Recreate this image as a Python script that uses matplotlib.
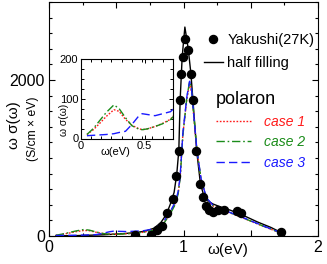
import matplotlib
matplotlib.use("Agg")
import matplotlib.pyplot as plt
from matplotlib.ticker import FixedLocator, MultipleLocator, FuncFormatter
from matplotlib.lines import Line2D

plt.rcParams['font.family'] = ['Liberation Sans', 'DejaVu Sans']

# ---- data ----
yak_w = [0.64, 0.756, 0.80, 0.84, 0.88, 0.92, 0.945, 0.966, 0.974, 0.98, 0.995, 1.013,
         1.036, 1.056, 1.068, 1.095, 1.125, 1.145, 1.17, 1.19, 1.22, 1.26, 1.30, 1.40, 1.43, 1.725]
yak_s = [15, 15, 80, 130, 300, 480, 770, 1090, 1740, 2080, 2300, 2530,
         2390, 2080, 1740, 1090, 670, 500, 380, 330, 310, 330, 340, 320, 300, 55]

hf_w = [0.05, 0.2, 0.4, 0.55, 0.65, 0.72, 0.78, 0.83, 0.87, 0.90, 0.93, 0.95, 0.965, 0.975,
        0.99, 1.01, 1.035, 1.055, 1.07, 1.098, 1.125, 1.15, 1.18, 1.22, 1.28, 1.35, 1.45,
        1.55, 1.65, 1.72]
hf_s = [2, 5, 15, 30, 45, 65, 100, 170, 270, 400, 560, 800, 1100, 1750,
        2300, 2680, 2400, 2080, 1740, 1090, 680, 520, 450, 410, 370, 330, 260,
        180, 110, 50]

pol_w = [0.05, 0.10, 0.15, 0.20, 0.26, 0.30, 0.35, 0.40, 0.45, 0.48, 0.52, 0.58, 0.64, 0.70,
         0.76, 0.80, 0.85, 0.90, 0.94, 0.96, 0.975, 0.995, 1.025, 1.045, 1.06, 1.08, 1.10,
         1.13, 1.17, 1.22, 1.30, 1.40, 1.50, 1.60, 1.72]
case1 = [10, 22, 38, 55, 72, 68, 48, 33, 25, 22, 24, 30, 38, 48, 70, 95, 160, 290, 420, 550,
         750, 1300, 1760, 1950, 1850, 1460, 1090, 730, 480, 385, 325, 262, 190, 120, 40]
case2 = [10, 25, 45, 65, 84, 75, 52, 32, 24, 22, 24, 30, 37, 47, 68, 92, 155, 280, 410, 540,
         740, 1290, 1780, 1980, 1870, 1480, 1100, 735, 485, 388, 328, 264, 192, 122, 42]
case3 = [7, 8, 9, 10, 12, 15, 18, 35, 55, 62, 60, 57, 62, 67, 85, 110, 180, 310, 440, 570,
         770, 1320, 1790, 1985, 1875, 1475, 1095, 740, 490, 392, 332, 267, 195, 125, 45]

case_labels = ["case 1", "case 2", "case 3"]
case_colors = ["#ff1a1a", "#1a8c1a", "#1a1aff"]
case_dashes = [(1.2, 1.2), (6, 2, 1.2, 2), (6, 3)]

# ---- figure ----
fig = plt.figure(figsize=(3.27, 2.64), dpi=100)
ax = fig.add_axes([0.150, 0.106, 0.8225, 0.886])

ax.plot(hf_w, hf_s, color='black', lw=1.0, zorder=3)
for vals, c, d in zip([case1, case2, case3], case_colors, case_dashes):
    ax.plot(pol_w, vals, color=c, lw=1.0, dashes=d, zorder=4)
ax.plot(yak_w, yak_s, 'o', color='black', ms=5.8, zorder=5)

ax.set_xlim(0, 2)
ax.set_ylim(0, 3000)
ax.xaxis.set_major_locator(FixedLocator([0, 0.5, 1, 1.5, 2]))
ax.xaxis.set_major_formatter(FuncFormatter(lambda v, p: f"{v:g}" if abs(v - round(v)) < 1e-6 else ""))
ax.xaxis.set_minor_locator(MultipleLocator(0.25))
ax.yaxis.set_major_locator(FixedLocator([0, 2000]))
ax.yaxis.set_minor_locator(MultipleLocator(200))
ax.tick_params(which='both', direction='in', top=True, right=True, labelsize=11.5, width=0.8)
ax.tick_params(which='major', length=4.5, pad=3)
ax.tick_params(which='minor', length=2.5)
for s in ax.spines.values():
    s.set_linewidth(0.8)

fig.text(228 / 327, 1 - 250 / 264, "ω(eV)", ha='center', va='center', fontsize=11)
fig.text(14 / 327, 1 - 125 / 264, "ω σ(ω)", rotation=90, ha='center', va='center', fontsize=11)
fig.text(33 / 327, 1 - 129 / 264, "(S/cm × eV)", rotation=90, ha='center', va='center', fontsize=8.7)

# legends
h1 = [Line2D([], [], marker='o', ls='none', color='black', ms=5.8),
      Line2D([], [], color='black', lw=1.0)]
leg1 = ax.legend(h1, ["Yakushi(27K)", "half filling"], loc='upper left',
                 bbox_to_anchor=(204 / 327, 1 - 33 / 264), bbox_transform=fig.transFigure,
                 frameon=False, fontsize=10.5, handlelength=1.3, handletextpad=0.3,
                 borderpad=0, borderaxespad=0, labelspacing=0.6)
ax.add_artist(leg1)

h2 = [Line2D([], [], color=c, lw=1.0, dashes=d) for c, d in zip(case_colors, case_dashes)]
leg2 = ax.legend(h2, case_labels, loc='upper left',
                 bbox_to_anchor=(216 / 327, 1 - 91 / 264), bbox_transform=fig.transFigure,
                 frameon=False, prop={'size': 10, 'style': 'italic'}, title="polaron",
                 title_fontsize=13, handlelength=2.5, handletextpad=0.95,
                 borderpad=0, borderaxespad=0, labelspacing=0.48)
leg2._legend_box.align = "left"
for t, c in zip(leg2.get_texts(), case_colors):
    t.set_color(c)

# ---- inset ----
axi = fig.add_axes([80.5 / 327, 1 - 138.5 / 264, 92 / 327, 80 / 264])
for vals, c, d in zip([case1, case2, case3], case_colors, case_dashes):
    axi.plot(pol_w, vals, color=c, lw=1.0, dashes=d)
axi.set_xlim(0, 0.716)
axi.set_ylim(0, 200)
axi.xaxis.set_major_locator(FixedLocator([0, 0.5]))
axi.xaxis.set_major_formatter(FuncFormatter(lambda v, p: f"{v:g}"))
axi.xaxis.set_minor_locator(MultipleLocator(0.08))
axi.yaxis.set_major_locator(FixedLocator([0, 100, 200]))
axi.yaxis.set_minor_locator(MultipleLocator(25))
axi.tick_params(which='both', direction='in', top=True, right=True, labelsize=8, width=0.7, pad=1.5)
axi.tick_params(which='major', length=3)
axi.tick_params(which='minor', length=2)
for s in axi.spines.values():
    s.set_linewidth(0.8)
fig.text(115 / 327, 1 - 152 / 264, "ω(eV)", ha='center', va='center', fontsize=8)
fig.text(64 / 327, 1 - 120 / 264, "ω σ(ω)", rotation=90, ha='center', va='center', fontsize=7.5)

fig.savefig("out.png", dpi=100)
